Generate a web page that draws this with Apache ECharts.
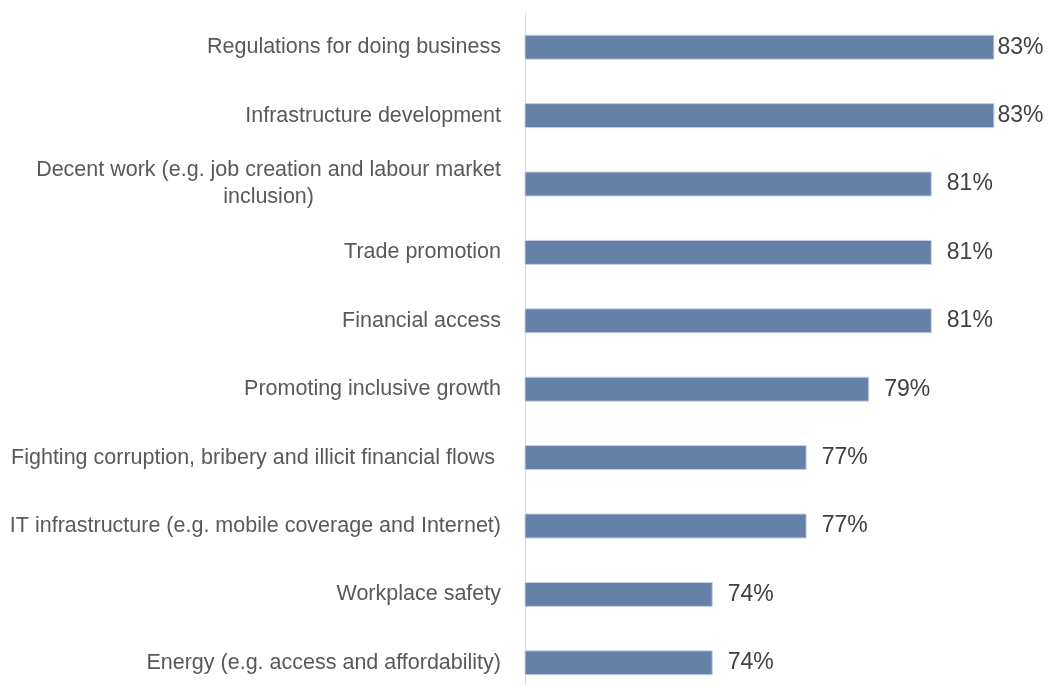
<!DOCTYPE html>
<html>
<head>
<meta charset="utf-8">
<script src="https://cdn.jsdelivr.net/npm/echarts@6/dist/echarts.min.js"></script>
<style>
html,body{margin:0;padding:0;background:#fff;}
#chart{width:1048px;height:685px;}
</style>
</head>
<body>
<div id="chart"></div>
<script>
// categories, top to bottom
var categories = [
	'Regulations for doing business',
	'Infrastructure development',
	'Decent work (e.g. job creation and labour market\ninclusion)',
	'Trade promotion',
	'Financial access',
	'Promoting inclusive growth',
	'Fighting corruption, bribery and illicit financial flows ',
	'IT infrastructure (e.g. mobile coverage and Internet)',
	'Workplace safety',
	'Energy (e.g. access and affordability)'
];
// share of respondents, %
var values = [83, 83, 81, 81, 81, 79, 77, 77, 74, 74];

var chart = echarts.init(document.getElementById('chart'));
var font = '"Liberation Sans", Arial, sans-serif';

// the highest bars have their label tight against the bar end
var maxVal = Math.max.apply(null, values);
var barData = values.map(function(v){
	return {
		value: v,
		label: { distance: v === maxVal ? 3 : 15 }
	};
});

var option = {
	backgroundColor: '#ffffff',
	animation: false,
	grid: { left: 525, top: 13, width: 532, height: 684, containLabel: false, outerBoundsMode: 'none' },
	xAxis: {
		type: 'value',
		min: 68,
		max: 85,
		show: false
	},
	yAxis: {
		type: 'category',
		inverse: true,
		data: categories,
		axisLine: { show: true, lineStyle: { color: '#d9d9d9', width: 1 } },
		axisTick: { show: false },
		axisLabel: {
			margin: 24,
			fontFamily: font,
			fontSize: 21.5,
			color: '#595959',
			lineHeight: 27,
			formatter: function(val){
				var parts = val.split('\n');
				if (parts.length === 1) return val;
				return '{a|' + parts[0] + '}\n{b|' + parts[1] + '}';
			},
			rich: {
				a: { fontFamily: font, fontSize: 21.5, color: '#595959', lineHeight: 27 },
				b: { fontFamily: font, fontSize: 21.5, color: '#595959', lineHeight: 27, align: 'center' }
			}
		}
	},
	series: [{
		type: 'bar',
		data: barData,
		barWidth: 25,
		itemStyle: { color: '#6581a8', borderColor: '#c8d3e2', borderWidth: 1 },
		label: {
			show: true,
			position: 'right',
			fontFamily: font,
			fontSize: 23,
			color: '#404040',
			formatter: '{c}%'
		}
	}]
};
chart.setOption(option);
</script>
</body>
</html>
